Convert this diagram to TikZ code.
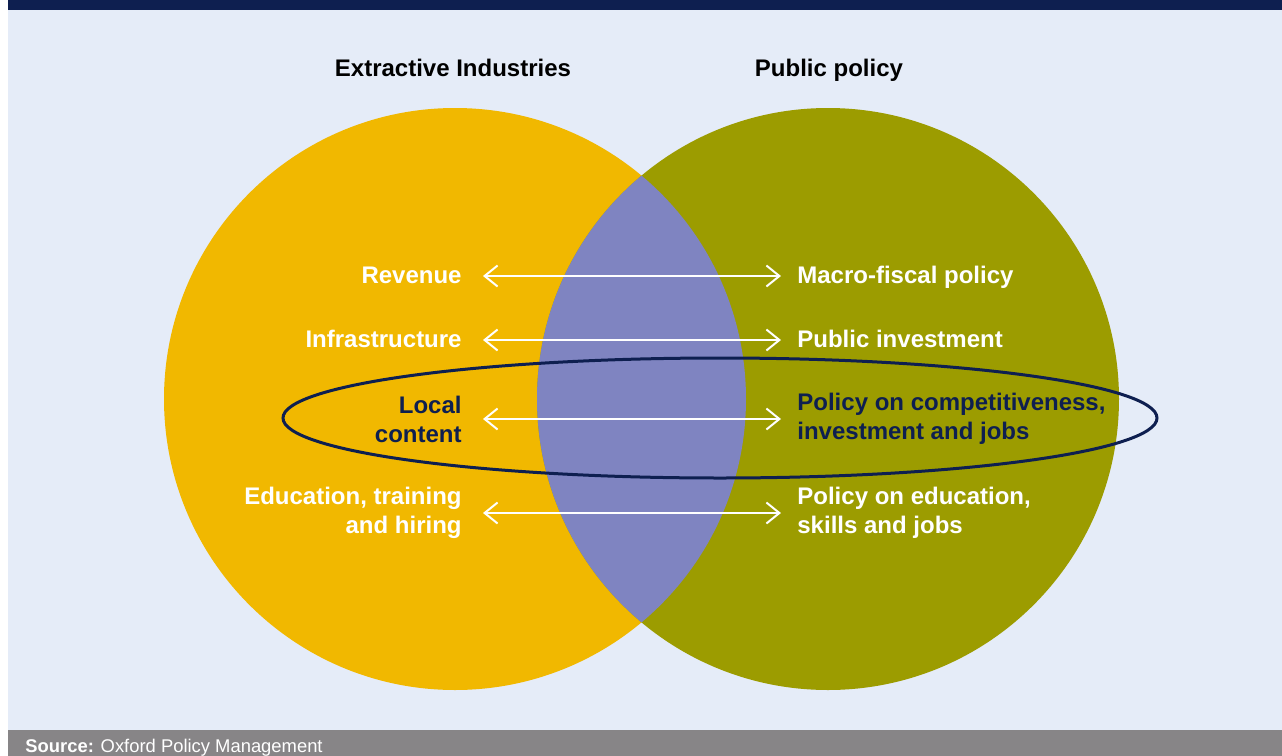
\documentclass[tikz,border=0pt]{standalone}
\usepackage{fontspec}
\setmainfont{Liberation Sans}
\usepackage{tikz}
\usetikzlibrary{arrows.meta, positioning}
\definecolor{gold}{HTML}{F1B800}
\definecolor{olive}{HTML}{9C9C00}
\definecolor{lavender}{HTML}{7F84C1}
\definecolor{paleblue}{HTML}{E5ECF8}
\definecolor{navy}{HTML}{0E1F50}
\definecolor{bargrey}{HTML}{878587}
\tikzstyle{item}=[text=white, font=\bfseries\fontsize{12}{14.5}\selectfont, inner sep=0pt]
\tikzstyle{line item}=[item, text height=0.72em, text depth=0pt]
\tikzstyle{key item}=[item, text=navy]
\tikzstyle{heading}=[font=\bfseries\fontsize{12}{14.5}\selectfont, inner sep=0pt, anchor=base]
\tikzstyle{link}=[white, line width=1pt, {Straight Barb[length=6.5pt,width=10.5pt]}-{Straight Barb[length=6.5pt,width=10.5pt]}, shorten <=10.5pt, shorten >=8pt]

\begin{document}
\begin{tikzpicture}[x=0.5pt, y=-0.5pt, node distance=167.5pt]
    \useasboundingbox (0,0) rectangle (1282,756);

    % Frame.
    \fill[paleblue] (8,10) rectangle (1282,730);
    \fill[navy] (8,0) rectangle (1282,10);
    \fill[bargrey] (8,730) rectangle (1282,756);
    \node[anchor=base west, inner sep=0pt, text=white, font=\fontsize{9.2}{11}\selectfont] (src) at (25,752)
      {\textbf{Source:} Oxford Policy Management};

    % Circles.
    \fill[gold] (455,399) circle [radius=291];
    \fill[olive] (828,399) circle [radius=291];
    \begin{scope}
      \clip (455,399) circle [radius=291];
      \fill[lavender] (828,399) circle [radius=291];
    \end{scope}
    \draw[navy, line width=1.5pt] (720,418) ellipse [x radius=437, y radius=60];

    % Headings.
    \node[heading] (ei) at (453,76) {Extractive Industries};
    \node[heading] (pp) at (829,76) {Public policy};

    % Extractive side.
    \node[line item, anchor=east] (rev) at (462,276) {Revenue};
    \node[line item, anchor=east] (inf) at (462,340) {Infrastructure};
    \node[key item, anchor=east, align=right] (loc) at (462,419) {Local\\content};
    \node[item, anchor=east, align=right] (edu) at (462,513) {Education, training\\and hiring};

    % Policy side.
    \node[line item, right=of rev] (mfp) {Macro-fiscal policy};
    \node[line item, right=of inf] (pin) {Public investment};
    \node[key item, right=of loc, align=left] (pcj) {Policy on competitiveness,\\investment and jobs};
    \node[item, right=of edu, align=left] (pes) {Policy on education,\\skills and jobs};

    \draw[link] (rev.east) -- (mfp.west);
    \draw[link] (inf.east) -- (pin.west);
    \draw[link] (loc.east) -- (pcj.west);
    \draw[link] (edu.east) -- (pes.west);
\end{tikzpicture}
\end{document}
